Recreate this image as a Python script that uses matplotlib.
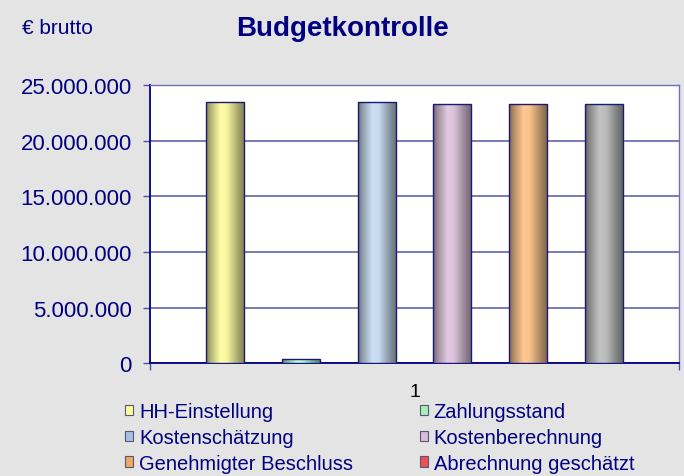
import numpy as np
import matplotlib
matplotlib.use("Agg")
import matplotlib.pyplot as plt
from matplotlib.patches import Rectangle
from matplotlib.colors import to_rgb
from matplotlib.ticker import FuncFormatter

plt.rcParams['font.family'] = ['Liberation Sans', 'DejaVu Sans']

# ---- data ----
series = ["HH-Einstellung", "Zahlungsstand", "Kostenschätzung",
          "Kostenberechnung", "Genehmigter Beschluss", "Abrechnung geschätzt"]
values = [23450000, 390000, 23450000, 23270000, 23270000, 23270000]
bar_colors = ["#ffffa6", "#b8ffd8", "#cde0f4", "#e2c9e2", "#ffc890", "#c2c2c2"]
legend_colors = ["#ffff99", "#a8f0b8", "#a8c0e0", "#d8bcd8", "#f0a860", "#f05050"]
category = "1"
yticks = [0, 5000000, 10000000, 15000000, 20000000, 25000000]

NAVY = "#000080"
BG = "#e4e4e4"

fig = plt.figure(figsize=(6.84, 4.77), dpi=100, facecolor=BG)
ax = fig.add_axes([149.7/684, 1-364.3/477, (679.3-149.7)/684, (364.3-86)/477])
ax.set_facecolor("white")

n = len(values)
step = 1.0/(n+1)
xs = [0.5 + (i - (n-1)/2)*step for i in range(n)]
width = step*0.5

bars = ax.bar(xs, values, width=width, facecolor="none", edgecolor="#1a1a70",
              linewidth=1.0, zorder=4)

# cylinder-like horizontal gradient
t = np.linspace(0, 1, 200)
prof = np.interp(t, [0, 0.12, 0.38, 0.55, 0.88, 1.0], [0.50, 0.70, 1.0, 0.97, 0.62, 0.52])
for rect, col in zip(bars, bar_colors):
    c = np.array(to_rgb(col))
    img = (prof[:, None] * c[None, :])[None, :, :]
    img = np.clip(img, 0, 1)
    x0, y0 = rect.get_x(), rect.get_y()
    w, h = rect.get_width(), rect.get_height()
    im = ax.imshow(img, extent=[x0, x0+w, y0, y0+h], aspect="auto",
                   interpolation="bilinear", zorder=3)
    im.set_clip_path(rect)

ax.set_xlim(0, 1)
ax.set_ylim(0, 25000000)

# grid
ax.set_yticks(yticks)
ax.yaxis.set_major_formatter(FuncFormatter(lambda v, p: f"{int(v):,}".replace(",", ".")))
ax.grid(axis="y", color="#7070b8", linewidth=1.3, zorder=1)
ax.set_axisbelow(True)

ax.tick_params(axis="y", direction="out", length=5, width=1, color="#5050a0",
               labelcolor=NAVY, labelsize=16, pad=8)
ax.set_xticks([0.5])
ax.set_xticklabels([category])
ax.set_xticks([0, 1], minor=True)
ax.tick_params(axis="x", which="major", length=0, labelsize=14, labelcolor="black", pad=14)
ax.tick_params(axis="x", which="minor", length=5, width=1, color="#5050a0")

for s in ["left", "bottom"]:
    ax.spines[s].set_color(NAVY)
    ax.spines[s].set_linewidth(1.3)
for s in ["top", "right"]:
    ax.spines[s].set_color("#7070b8")
    ax.spines[s].set_linewidth(1.0)

fig.text(343/684, 1-29/477, "Budgetkontrolle", ha="center", va="center",
         fontsize=20, fontweight="bold", color=NAVY)
fig.text(22/684, 1-28/477, "€ brutto", ha="left", va="center", fontsize=15, color=NAVY)

# legend (row-wise order with 2 columns)
handles = [Rectangle((0, 0), 1, 1, facecolor=c, edgecolor="#555577", linewidth=0.8)
           for c in legend_colors]
order = [0, 2, 4, 1, 3, 5]
leg = fig.legend([handles[i] for i in order], [series[i] for i in order],
                 ncol=2, loc="upper left", bbox_to_anchor=(125/684, 1-403/477),
                 frameon=False, fontsize=14.5, labelcolor=NAVY,
                 handlelength=0.4, handleheight=0.4, handletextpad=0.3,
                 labelspacing=0.34, columnspacing=3.3, borderpad=0, borderaxespad=0)

fig.savefig("out.png", dpi=100, facecolor=BG)
